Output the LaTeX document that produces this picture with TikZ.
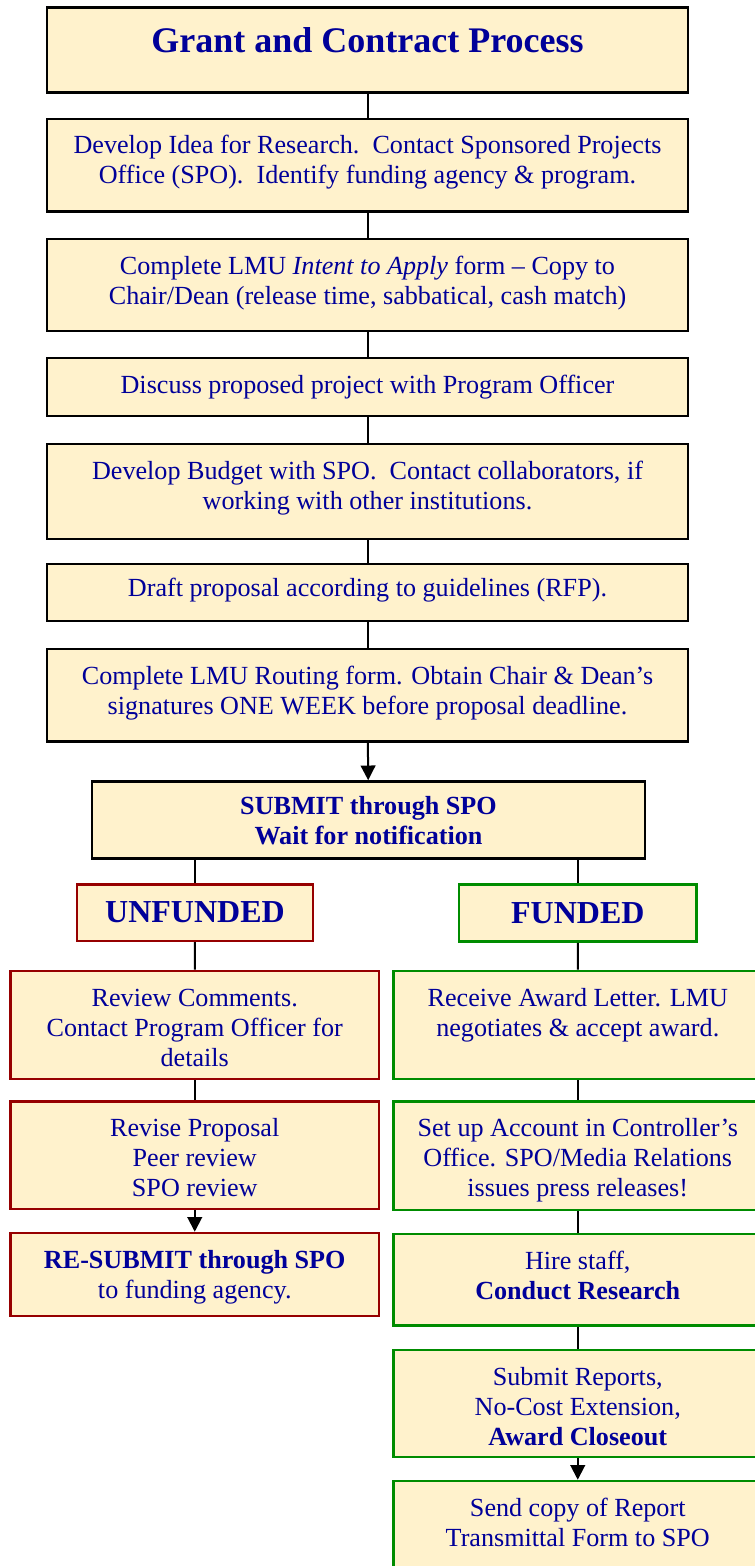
\documentclass[tikz,border=0pt]{standalone}
\usepackage{fontspec}
\setmainfont{Liberation Serif}
\usepackage{xcolor}
\usetikzlibrary{arrows.meta}

\definecolor{boxfill}{RGB}{255,242,204}
\definecolor{txtblue}{RGB}{0,0,153}
\definecolor{nored}{RGB}{150,0,0}
\definecolor{yesgreen}{RGB}{0,140,0}

\newlength{\pxu}
\setlength{\pxu}{0.75pt}
\newcommand{\boxtxt}[4][14]{\parbox[c][#3\pxu][t]{#2\pxu}{\vspace*{#1\pxu}\centering\strut#4}}

\begin{document}
\begin{tikzpicture}[x=0.75pt, y=-0.75pt,
    stepbox/.style={draw=black, line width=2.2pt, fill=boxfill, inner sep=0pt,
        text=txtblue, font=\fontsize{19.6}{22.5}\selectfont},
    nobox/.style={stepbox, draw=nored, line width=1.9pt},
    yesbox/.style={stepbox, draw=yesgreen, line width=1.9pt},
    link/.style={line width=1.5pt},
    linkarrow/.style={link, -{Triangle[length=11pt, width=11pt]}}]

    \useasboundingbox (0,0) rectangle (755,1566);
    \clip (0,0) rectangle (755,1566);

    % main column
    \node[stepbox] (title) at (367.5,50) {\boxtxt[20]{641}{85}{\fontsize{27}{30}\selectfont\bfseries Grant and Contract Process}};
    \node[stepbox] (idea) at (367.5,165.25) {\boxtxt{641}{92.5}{Develop Idea for Research.\ \ Contact Sponsored Projects\\Office (SPO).\ \ Identify funding agency \& program.}};
    \node[stepbox] (intent) at (367.5,285) {\boxtxt{641}{92}{Complete LMU \textit{Intent to Apply} form – Copy to\\Chair/Dean (release time, sabbatical, cash match)}};
    \node[stepbox] (discuss) at (367.5,387) {\boxtxt{641}{58}{Discuss proposed project with Program Officer}};
    \node[stepbox] (budget) at (367.5,491.5) {\boxtxt{641}{95}{Develop Budget with SPO.\ \ Contact collaborators, if\\working with other institutions.}};
    \node[stepbox] (draft) at (367.5,592.5) {\boxtxt[11]{641}{57}{Draft proposal according to guidelines (RFP).}};
    \node[stepbox] (routing) at (367.5,695.25) {\boxtxt{641}{92.5}{Complete LMU Routing form. Obtain Chair \& Dean’s\\signatures ONE WEEK before proposal deadline.}};
    \node[stepbox] (submit) at (368.5,820.3) {\boxtxt[12]{553}{77.3}{\bfseries SUBMIT through SPO\\Wait for notification}};

    % unfunded branch
    \node[nobox, minimum width=236\pxu, minimum height=56.7\pxu, font=\fontsize{24}{26}\selectfont\bfseries] (unfunded) at (195,912.6) {UNFUNDED};
    \node[nobox] (review) at (194.75,1025) {\boxtxt{368.5}{108}{Review Comments.\\Contact Program Officer for\\details}};
    \node[nobox] (revise) at (194.75,1155.35) {\boxtxt{368.5}{107.3}{Revise Proposal\\Peer review\\SPO review}};
    \node[nobox] (resubmit) at (194.75,1274.5) {\boxtxt{368.5}{83}{\textbf{RE-SUBMIT through SPO}\\to funding agency.}};

    % funded branch
    \node[yesbox, minimum width=237.7\pxu, minimum height=57.2\pxu, font=\fontsize{24}{26}\selectfont\bfseries] (funded) at (577.8,912.9) {FUNDED};
    \node[yesbox] (award) at (577.75,1025) {\boxtxt{368.5}{108}{Receive Award Letter. LMU\\negotiates \& accept award.}};
    \node[yesbox] (account) at (577.75,1155.85) {\boxtxt{368.5}{108.3}{Set up Account in Controller’s\\Office. SPO/Media Relations\\issues press releases!}};
    \node[yesbox] (hire) at (577.75,1279.85) {\boxtxt{368.5}{91.7}{Hire staff,\\\textbf{Conduct Research}}};
    \node[yesbox] (reports) at (577.75,1403.5) {\boxtxt{368.5}{107}{Submit Reports,\\No-Cost Extension,\\\textbf{Award Closeout}}};
    \node[yesbox] (send) at (577.75,1535.5) {\boxtxt{368.5}{109}{Send copy of Report\\Transmittal Form to SPO}};

    % connectors
    \draw[link] (title) -- (idea);
    \draw[link] (idea) -- (intent);
    \draw[link] (intent) -- (discuss);
    \draw[link] (discuss) -- (budget);
    \draw[link] (budget) -- (draft);
    \draw[link] (draft) -- (routing);
    \draw[linkarrow] (routing) -- (submit);

    \draw[link] (submit.south -| unfunded.north) -- (unfunded.north);
    \draw[link] (submit.south -| funded.north) -- (funded.north);

    \draw[link] (unfunded) -- (review);
    \draw[link] (review) -- (revise);
    \draw[linkarrow] (revise) -- (resubmit);

    \draw[link] (funded) -- (award);
    \draw[link] (award) -- (account);
    \draw[link] (account) -- (hire);
    \draw[link] (hire) -- (reports);
    \draw[linkarrow] (reports) -- (send);

\end{tikzpicture}
\end{document}
